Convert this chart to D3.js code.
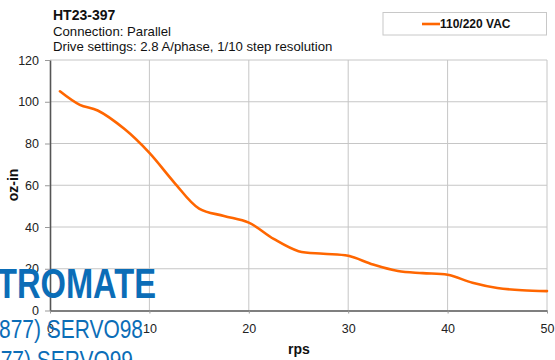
<!DOCTYPE html>
<html><head><meta charset="utf-8">
<script src="https://cdn.jsdelivr.net/npm/d3@7"></script>
<style>
html,body{margin:0;padding:0;background:#fff;}
svg{display:block;font-family:"Liberation Sans",Arial,sans-serif;}
</style></head>
<body>
<svg id="c" width="555" height="360"></svg>
<script>
const titleLines = ["HT23-397", "Connection: Parallel", "Drive settings: 2.8 A/phase, 1/10 step resolution"];
const seriesName = "110/220 VAC";
const rps = [1, 3, 4.8, 7.5, 10, 12.5, 15, 17.5, 20, 22.5, 25, 27.5, 30, 32.5, 35, 37.5, 40, 42.5, 45, 47.5, 50];
const torque = [105, 98.5, 95.8, 86.9, 75.5, 61.3, 48.8, 45.3, 42.1, 34.3, 28.4, 27.2, 26.2, 22.0, 18.9, 17.9, 17.1, 13.3, 10.8, 9.7, 9.3];
const xTicks = [0, 10, 20, 30, 40, 50];
const yTicks = [0, 20, 40, 60, 80, 100, 120];
const watermark = ["TROMATE", "(877) SERVO98", "(877) SERVO99"];

const svg = d3.select("#c");
const x = d3.scaleLinear().domain([0, 50]).range([50, 547]);
const y = d3.scaleLinear().domain([0, 120]).range([310.5, 60]);

// grid
svg.append("g").selectAll("line").data(yTicks.filter(d => d > 0)).join("line")
  .attr("x1", x(0)).attr("x2", x(50)).attr("y1", d => y(d)).attr("y2", d => y(d))
  .attr("stroke", "#c6c6c6").attr("stroke-width", 1);
svg.append("g").selectAll("line").data(xTicks.filter(d => d > 0)).join("line")
  .attr("y1", y(0)).attr("y2", y(120)).attr("x1", d => x(d)).attr("x2", d => x(d))
  .attr("stroke", "#c6c6c6").attr("stroke-width", 1);

// axes
const yAxis = svg.append("g").attr("transform", `translate(${x(0)},0)`)
  .call(d3.axisLeft(y).tickValues(yTicks).tickSize(5).tickPadding(6).tickSizeOuter(0));
const xAxis = svg.append("g").attr("transform", `translate(0,${y(0)})`)
  .call(d3.axisBottom(x).tickValues(xTicks).tickSize(3).tickPadding(11).tickSizeOuter(0));
[yAxis, xAxis].forEach(g => {
  g.select(".domain").attr("stroke", "#555").attr("stroke-width", 1.6);
  g.selectAll(".tick line").attr("stroke", "#999");
  g.selectAll("text").attr("font-family", "Liberation Sans, Arial, sans-serif").attr("font-size", 12.5).attr("fill", "#222");
});

// line
svg.append("path").datum(rps.map((r, i) => [r, torque[i]]))
  .attr("fill", "none").attr("stroke", "#ff6600").attr("stroke-width", 2.6)
  .attr("stroke-linejoin", "round").attr("stroke-linecap", "round")
  .attr("d", d3.line().x(d => x(d[0])).y(d => y(d[1])).curve(d3.curveCatmullRom.alpha(0.5)));

// titles
svg.append("text").attr("x", 53).attr("y", 19.5).attr("font-size", 14).attr("font-weight", "bold").attr("fill", "#111").text(titleLines[0]);
svg.append("text").attr("x", 53).attr("y", 35.5).attr("font-size", 13.2).attr("fill", "#111").text(titleLines[1]);
svg.append("text").attr("x", 53).attr("y", 50.5).attr("font-size", 13.2).attr("fill", "#111").text(titleLines[2]);

// axis labels
svg.append("text").attr("transform", "translate(18,185) rotate(-90)").attr("text-anchor", "middle")
  .attr("font-size", 14).attr("font-weight", "bold").attr("fill", "#111").text("oz-in");
svg.append("text").attr("x", 299).attr("y", 354).attr("text-anchor", "middle")
  .attr("font-size", 14).attr("font-weight", "bold").attr("fill", "#111").text("rps");

// legend
svg.append("rect").attr("x", 383).attr("y", 12.5).attr("width", 163.5).attr("height", 22.5)
  .attr("fill", "#fff").attr("stroke", "#c8c8c8").attr("stroke-width", 1);
svg.append("line").attr("x1", 422).attr("x2", 440).attr("y1", 24).attr("y2", 24)
  .attr("stroke", "#ff6600").attr("stroke-width", 2.6);
svg.append("text").attr("x", 440).attr("y", 28).attr("font-size", 12).attr("font-weight", "bold").attr("fill", "#111").text(seriesName);

// watermark
const wm = svg.append("g").attr("fill", "#0b6db7");
wm.append("text").attr("x", -3).attr("y", 298).attr("font-size", 42).attr("font-weight", "bold")
  .attr("textLength", 159).attr("lengthAdjust", "spacingAndGlyphs").text(watermark[0]);
wm.append("text").attr("x", -8).attr("y", 338).attr("font-size", 25)
  .attr("textLength", 151).attr("lengthAdjust", "spacingAndGlyphs").text(watermark[1]);
wm.append("text").attr("x", -18).attr("y", 369).attr("font-size", 25)
  .attr("textLength", 151).attr("lengthAdjust", "spacingAndGlyphs").text(watermark[2]);
</script>
</body></html>
